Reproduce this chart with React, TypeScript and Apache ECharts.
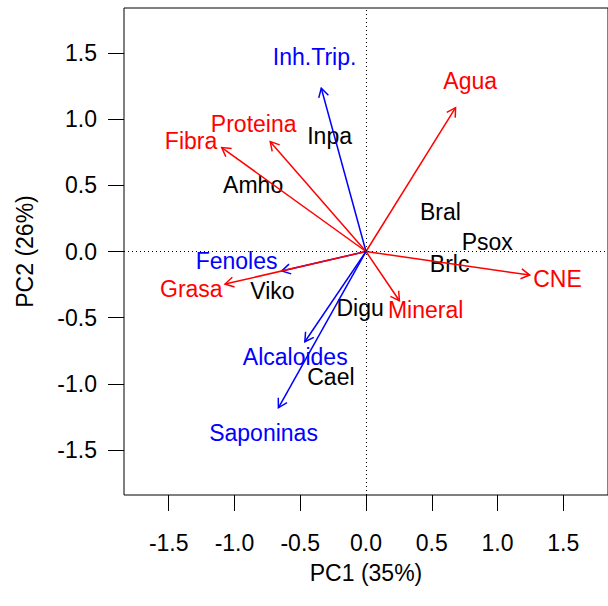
import React, { useEffect, useRef } from "react";
import * as echarts from "echarts";

// Axis settings
const xMin = -1.84;
const xMax = 1.84;
const yMin = -1.84;
const yMax = 1.84;
const xTicks = [-1.5, -1.0, -0.5, 0.0, 0.5, 1.0, 1.5];
const xTickLabels = ["-1.5", "-1.0", "-0.5", "0.0", "0.5", "1.0", "1.5"];
const yTicks = [-1.5, -1.0, -0.5, 0.0, 0.5, 1.0, 1.5];
const yTickLabels = ["-1.5", "-1.0", "-0.5", "0.0", "0.5", "1.0", "1.5"];
const xTitle = "PC1 (35%)";
const yTitle = "PC2 (26%)";

// Variable loadings (arrows)
const varNames = ["Inh.Trip.", "Fibra", "Proteina", "Fenoles", "Grasa", "Agua", "CNE", "Mineral", "Alcaloides", "Saponinas"];
const varGroup = ["anti", "nutri", "nutri", "anti", "nutri", "nutri", "nutri", "nutri", "anti", "anti"];
const arrowX = [-0.34, -1.097, -0.728, -0.641, -1.072, 0.681, 1.245, 0.254, -0.465, -0.666];
const arrowY = [1.234, 0.785, 0.83, -0.147, -0.246, 1.087, -0.178, -0.372, -0.682, -1.181];
const varLabelX = [-0.391, -1.33, -0.854, -0.984, -1.328, 0.792, 1.456, 0.453, -0.538, -0.779];
const varLabelY = [1.47, 0.835, 0.964, -0.072, -0.283, 1.289, -0.206, -0.442, -0.797, -1.374];

// Observation scores
const obsNames = ["Inpa", "Amho", "Bral", "Psox", "Brlc", "Viko", "Digu", "Cael"];
const obsX = [-0.277, -0.858, 0.566, 0.922, 0.636, -0.711, -0.045, -0.267];
const obsY = [0.873, 0.503, 0.301, 0.074, -0.094, -0.296, -0.425, -0.946];

const groupColor: Record<string, string> = { anti: "#0000FF", nutri: "#FF0000" };
const FONT = '"Liberation Sans", Arial, Helvetica, sans-serif';
const FS = 23;

export default function App() {
  const ref = useRef<HTMLDivElement>(null);
  useEffect(() => {
    if (!ref.current) return;
    const chart = echarts.init(ref.current, null, { renderer: "svg" });
    const fmt = (ticks: number[], labels: string[]) => (v: number) => {
      const i = ticks.findIndex((t) => Math.abs(t - v) < 1e-9);
      return i >= 0 ? labels[i] : "";
    };
    const labelBase = {
      show: true,
      position: "inside",
      formatter: "{b}",
      fontSize: FS,
      fontFamily: FONT,
      opacity: 1,
      textBorderWidth: 0,
      textBorderColor: "transparent",
      textShadowBlur: 0,
    };
    const option: any = {
      animation: false,
      backgroundColor: "#ffffff",
      grid: {
        left: 124,
        top: 8,
        width: 489,
        height: 487,
        show: true,
        borderColor: "#000",
        borderWidth: 1,
        backgroundColor: "transparent",
      },
      xAxis: {
        type: "value",
        min: xMin,
        max: xMax,
        position: "bottom",
        splitLine: { show: false },
        axisLine: { show: false, onZero: false },
        axisTick: { show: true, inside: false, length: 16, customValues: xTicks, lineStyle: { color: "#000", width: 1 } },
        axisLabel: {
          show: true,
          customValues: xTicks,
          formatter: fmt(xTicks, xTickLabels),
          color: "#000",
          fontSize: FS,
          fontFamily: FONT,
          margin: 36,
        },
        name: xTitle,
        nameLocation: "middle",
        nameGap: 66,
        nameTextStyle: { color: "#000", fontSize: FS, fontFamily: FONT },
      },
      yAxis: {
        type: "value",
        min: yMin,
        max: yMax,
        position: "left",
        splitLine: { show: false },
        axisLine: { show: false, onZero: false },
        axisTick: { show: true, inside: false, length: 16, customValues: yTicks, lineStyle: { color: "#000", width: 1 } },
        axisLabel: {
          show: true,
          customValues: yTicks,
          formatter: fmt(yTicks, yTickLabels),
          color: "#000",
          fontSize: FS,
          fontFamily: FONT,
          margin: 27,
        },
        name: yTitle,
        nameLocation: "middle",
        nameGap: 88,
        nameRotate: 90,
        nameTextStyle: { color: "#000", fontSize: FS, fontFamily: FONT },
      },
      series: [
        {
          type: "scatter",
          name: "obs",
          symbolSize: 1,
          itemStyle: { color: "rgba(0,0,0,0)", opacity: 1 },
          data: obsNames.map((n, i) => ({ name: n, value: [obsX[i], obsY[i]] })),
          label: { ...labelBase, color: "#000" },
          emphasis: { disabled: true },
          silent: true,
          z: 2,
        },
        {
          type: "custom",
          name: "arrows",
          coordinateSystem: "cartesian2d",
          clip: false,
          encode: { x: 0, y: 1 },
          data: arrowX.map((x, i) => [x, arrowY[i], varGroup[i] === "anti" ? 0 : 1]),
          renderItem: (params: any, api: any) => {
            const x = api.value(0);
            const y = api.value(1);
            const g = api.value(2);
            const color = g === 0 ? groupColor.anti : groupColor.nutri;
            const p0 = api.coord([0, 0]);
            const p1 = api.coord([x, y]);
            const ang = Math.atan2(p1[1] - p0[1], p1[0] - p0[0]);
            const L = 10;
            const a = Math.PI / 6;
            const h1 = [p1[0] - L * Math.cos(ang - a), p1[1] - L * Math.sin(ang - a)];
            const h2 = [p1[0] - L * Math.cos(ang + a), p1[1] - L * Math.sin(ang + a)];
            return {
              type: "group",
              children: [
                {
                  type: "line",
                  shape: { x1: p0[0], y1: p0[1], x2: p1[0], y2: p1[1] },
                  style: { stroke: color, lineWidth: 1.5 },
                },
                {
                  type: "polyline",
                  shape: { points: [h1, p1, h2] },
                  style: { stroke: color, fill: null, lineWidth: 1.5 },
                },
              ],
            };
          },
          silent: true,
          z: 3,
        },
        {
          type: "scatter",
          name: "vars",
          symbolSize: 1,
          itemStyle: { color: "rgba(0,0,0,0)", opacity: 1 },
          data: varNames.map((n, i) => ({
            name: n,
            value: [varLabelX[i], varLabelY[i]],
            label: { color: groupColor[varGroup[i]] },
          })),
          label: { ...labelBase },
          emphasis: { disabled: true },
          markLine: {
            silent: true,
            symbol: ["none", "none"],
            label: { show: false },
            lineStyle: { color: "#000", width: 1, type: [1, 3] },
            data: [{ xAxis: 0 }, { yAxis: 0 }],
          },
          silent: true,
          z: 4,
        },
      ],
    };
    chart.setOption(option);
    return () => chart.dispose();
  }, []);
  return (
    <div
      ref={ref}
      style={{ position: "absolute", left: 0, top: 0, width: 608, height: 606, background: "#fff" }}
    />
  );
}
